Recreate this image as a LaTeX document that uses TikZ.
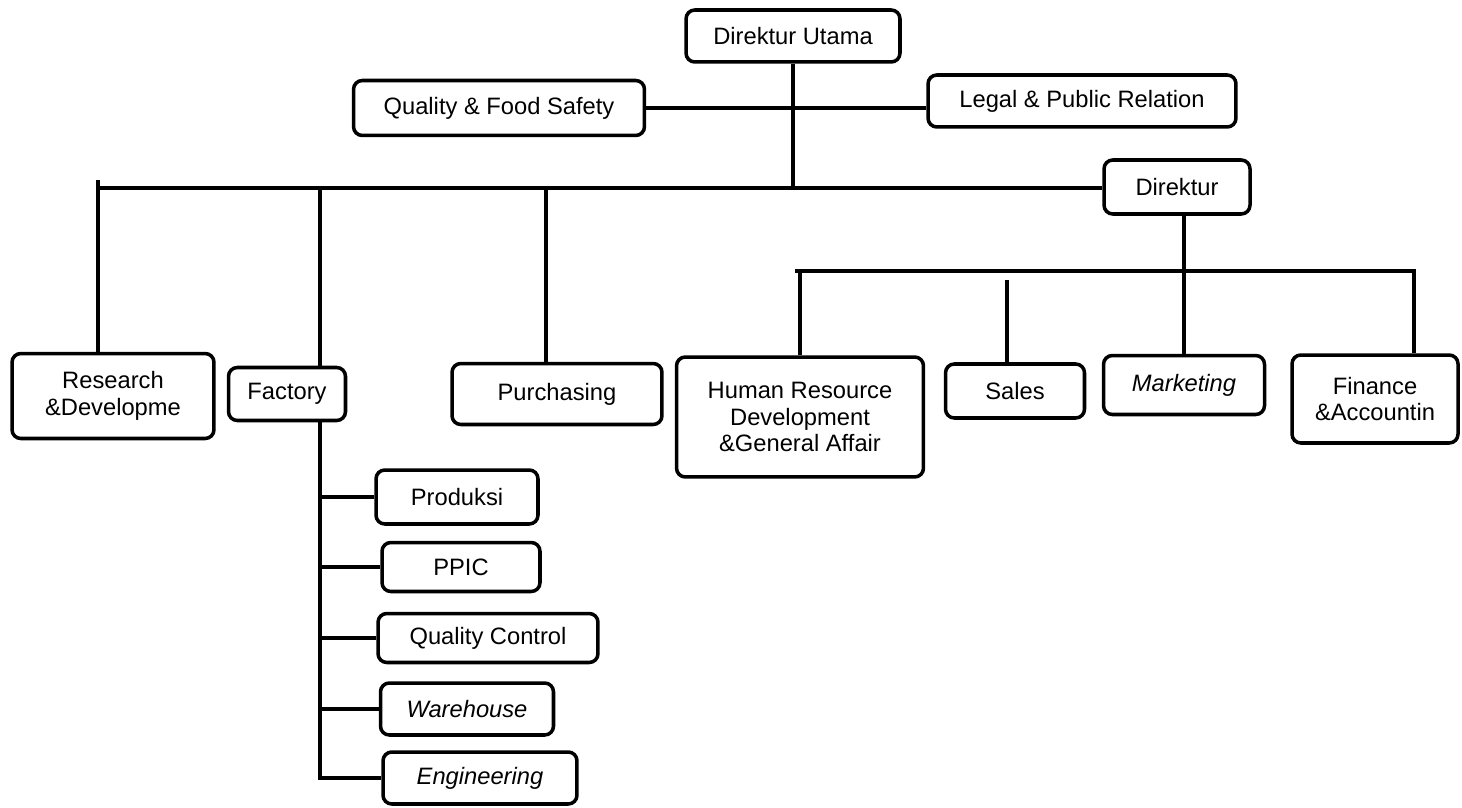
\documentclass[tikz,border=0pt]{standalone}
\usepackage{fontspec}
\setmainfont{Liberation Sans}
\begin{document}
\begin{tikzpicture}[x=0.02cm,y=-0.02cm,line width=2.2pt]
  \tikzstyle{unit}=[draw, rounded corners=5pt, line width=2pt, align=center, inner sep=0pt,
    font=\fontsize{13.5}{15}\selectfont]
  \tikzstyle{subunit}=[unit, minimum height=1.0cm]

  \useasboundingbox (0,0) rectangle (1462,807);

  \node[unit, minimum width=4.28cm, minimum height=1.04cm] (du) at (793,36) {Direktur Utama};
  \node[unit, minimum width=5.82cm, minimum height=1.1cm] (qfs) at (499,108) {Quality \& Food Safety};
  \node[unit, minimum width=6.16cm, minimum height=1.04cm] (legal) at (1082,101) {Legal \& Public Relation};
  \node[unit, minimum width=2.92cm, minimum height=1.08cm] (dir) at (1177,187) {Direktur};

  \node[unit, minimum width=4.04cm, minimum height=1.7cm] (rnd) at (113,396) {Research\\\&Developme};
  \node[unit, minimum width=2.34cm, minimum height=1.06cm] (fac) at (287,394) {Factory};
  \node[unit, minimum width=4.2cm, minimum height=1.22cm] (pur) at (557,394) {Purchasing};
  \node[unit, minimum width=4.94cm, minimum height=2.4cm] (hr) at (800,417) {Human Resource\\Development\\\&General Affair};
  \node[unit, minimum width=2.78cm, minimum height=1.08cm] (sales) at (1015,391) {Sales};
  \node[unit, minimum width=3.22cm, minimum height=1.18cm] (mkt) at (1184,385) {\itshape Marketing};
  \node[unit, minimum width=3.32cm, minimum height=1.76cm] (fin) at (1375,399) {Finance\\\&Accountin};

  \node[subunit, minimum width=3.24cm, minimum height=1.08cm] (prod) at (457,497) {Produksi};
  \node[subunit, minimum width=3.16cm, minimum height=0.98cm] (ppic) at (461,567) {PPIC};
  \node[subunit, minimum width=4.4cm, minimum height=0.98cm] (qc) at (488,638) {Quality Control};
  \node[subunit, minimum width=3.46cm, minimum height=1.04cm] (wh) at (467,709) {\itshape Warehouse};
  \node[subunit, minimum width=3.88cm, minimum height=1.04cm] (eng) at (480,778) {\itshape Engineering};

  \coordinate (busL) at (98,188);
  \coordinate (rndTop) at (98,180);
  \coordinate (facTop) at (320,188);
  \coordinate (purTop) at (546,188);
  \coordinate (facBot) at (320,780);
  \coordinate (hrTop) at (795,271);
  \coordinate (finTop) at (1414,271);
  \coordinate (salesTop) at (1007,280);

  \draw (du.south) -- (du.south |- busL);
  \draw (qfs.east) -- (qfs.east -| legal.west);
  \draw (busL) -- (busL -| dir.west);
  \draw (rndTop) -- (rndTop |- rnd.north);
  \draw (facTop) -- (facTop |- fac.north);
  \draw (purTop) -- (purTop |- pur.north);

  \draw (dir.south -| mkt.north) -- (mkt.north);
  \draw (hrTop) -- (finTop) -- (finTop |- fin.north);
  \draw ([xshift=0.1cm]hrTop) -- ([xshift=0.1cm]hrTop |- hr.north);
  \draw (salesTop) -- (salesTop |- sales.north);

  \draw (facTop |- fac.south) -- (facBot);
  \foreach \n in {prod,ppic,qc,wh,eng}
    \draw (\n.west -| facBot) -- (\n.west);
\end{tikzpicture}
\end{document}
